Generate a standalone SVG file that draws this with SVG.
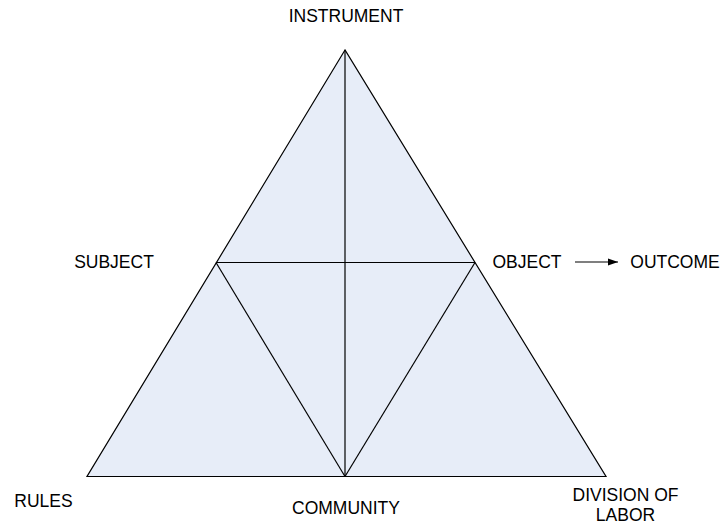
<svg xmlns="http://www.w3.org/2000/svg" width="721" height="524" viewBox="0 0 721 524">
<style>
.lbl{font-family:"Liberation Sans",Arial,sans-serif;font-size:17.5px;fill:#000;text-anchor:middle}
.ln{stroke:#000;stroke-width:1.2;fill:none}
</style>
<defs>
<marker id="ah" markerWidth="11" markerHeight="9" refX="10" refY="4.5" orient="auto" markerUnits="userSpaceOnUse">
<path d="M0,1 L10,4.5 L0,8 Z" fill="#000"/>
</marker>
</defs>
<rect width="721" height="524" fill="#fff"/>
<g id="triangle">
<polygon points="345,50 87,476.5 606,476.5" fill="#E7EDF8" stroke="#000" stroke-width="1.2"/>
</g>
<g id="connectors">
<line class="ln" x1="216" y1="262.5" x2="475" y2="262.5"/>
<line class="ln" x1="345" y1="50" x2="345" y2="476.5"/>
<line class="ln" x1="216" y1="262.5" x2="345" y2="476.5"/>
<line class="ln" x1="475" y1="262.5" x2="345" y2="476.5"/>
<line class="ln" x1="575" y1="262" x2="618" y2="262" marker-end="url(#ah)"/>
</g>
<g id="instrument"><text class="lbl" x="346" y="22">INSTRUMENT</text></g>
<g id="subject"><text class="lbl" x="114" y="268">SUBJECT</text></g>
<g id="object"><text class="lbl" x="527" y="268">OBJECT</text></g>
<g id="outcome"><text class="lbl" x="675" y="268">OUTCOME</text></g>
<g id="rules"><text class="lbl" x="43.5" y="507">RULES</text></g>
<g id="community"><text class="lbl" x="346" y="514">COMMUNITY</text></g>
<g id="division"><text class="lbl" x="625.5" y="501">DIVISION OF</text><text class="lbl" x="625.5" y="521">LABOR</text></g>
</svg>
